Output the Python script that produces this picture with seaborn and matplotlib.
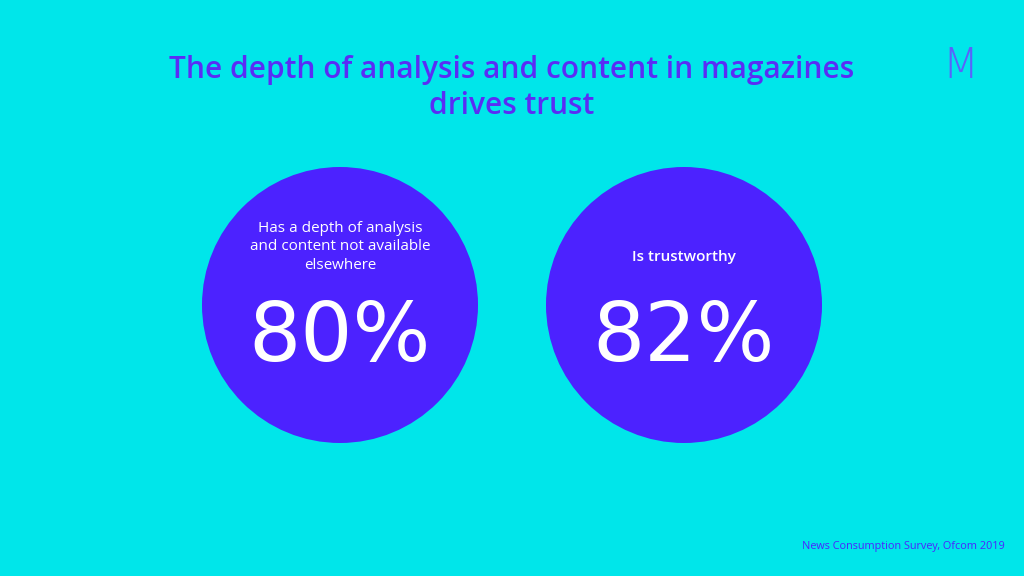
import matplotlib
matplotlib.use("Agg")
import matplotlib.pyplot as plt
import seaborn as sns
import pandas as pd

labels = ["Has a depth of analysis\nand content not available\nelsewhere", "Is trustworthy"]
values = [80, 82]
positions = [0, 1]

BG = "#00E6EA"
PURPLE = "#4C22FF"
FONT = "Open Sans"

df = pd.DataFrame({"x": positions, "y": [0, 0], "label": labels, "value": values})

fig = plt.figure(figsize=(10.24, 5.76), dpi=100, facecolor=BG)
ax = fig.add_axes([0, 0, 1, 1])
ax.set_facecolor(BG)
ax.axis("off")
ax.set_xlim(-340/344, (1024-340)/344)
ax.set_ylim(-(576-305)/138, 305/138)

r_pt = 138 * 0.72
sns.scatterplot(data=df, x="x", y="y", s=(2*r_pt)**2, color=PURPLE, edgecolor="none", ax=ax, legend=False)

for _, row in df.iterrows():
    n = row["label"].count("\n") + 1
    ax.text(row["x"], 58/138 if n > 1 else 48/138, row["label"], ha="center", va="center",
            color="white", fontsize=11, family=FONT, linespacing=1.3,
            fontweight="semibold" if n == 1 else "normal")
    ax.text(row["x"], -33/138, f"{row['value']}%", ha="center", va="center",
            color="white", fontsize=59, family="DejaVu Sans")

fig.text(0.5, 1 - 88/576, "The depth of analysis and content in magazines\ndrives trust",
         ha="center", va="center", color="#5A2DF5", fontsize=21.5, family=FONT,
         fontweight="semibold", linespacing=1.25)
fig.text(960/1024, 1 - 65/576, "M", ha="center", va="center", color="#6A4CFF",
         fontsize=30, family="DejaVu Sans", fontweight="light", alpha=0.85)
fig.text(1005/1024, 1 - 546/576, "News Consumption Survey, Ofcom 2019", ha="right", va="center",
         color="#4C22FF", fontsize=7.8, family=FONT)

fig.savefig("out.png", dpi=100, facecolor=BG)
